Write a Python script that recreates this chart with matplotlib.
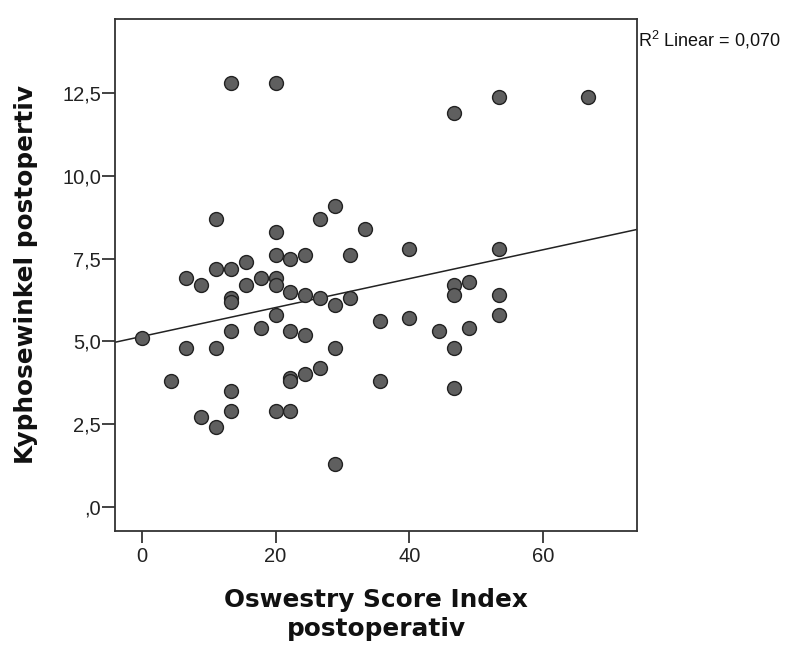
import numpy as np
import matplotlib
matplotlib.use("Agg")
import matplotlib.pyplot as plt
from matplotlib.ticker import FixedLocator, FuncFormatter

plt.rcParams['font.family'] = ['Liberation Sans', 'DejaVu Sans']
plt.rcParams['mathtext.fontset'] = 'custom'
plt.rcParams['mathtext.rm'] = 'Liberation Sans'

odi = [13.33, 20.0, 11.11, 20.0, 26.67, 28.89, 33.33, 11.11, 13.33, 15.56,
       20.0, 22.22, 24.44, 31.11, 46.67, 53.33, 66.67, 40.0, 53.33, 6.67,
       8.89, 15.56, 17.78, 20.0, 20.0, 22.22, 24.44, 26.67, 28.89, 31.11,
       13.33, 13.33, 20.0, 0.0, 13.33, 17.78, 22.22, 24.44, 35.56, 6.67,
       11.11, 28.89, 4.44, 22.22, 22.22, 24.44, 26.67, 35.56, 13.33, 8.89,
       11.11, 13.33, 20.0, 22.22, 28.89, 40.0, 44.44, 46.67, 48.89, 46.67,
       53.33, 53.33, 48.89, 46.67, 46.67]
kyphose = [12.8, 12.8, 8.7, 8.3, 8.7, 9.1, 8.4, 7.2, 7.2, 7.4,
           7.6, 7.5, 7.6, 7.6, 11.9, 12.4, 12.4, 7.8, 7.8, 6.9,
           6.7, 6.7, 6.9, 6.9, 6.7, 6.5, 6.4, 6.3, 6.1, 6.3,
           6.3, 6.2, 5.8, 5.1, 5.3, 5.4, 5.3, 5.2, 5.6, 4.8,
           4.8, 4.8, 3.8, 3.9, 3.8, 4.0, 4.2, 3.8, 3.5, 2.7,
           2.4, 2.9, 2.9, 2.9, 1.3, 5.7, 5.3, 6.7, 6.8, 6.4,
           6.4, 5.8, 5.4, 4.8, 3.6]
x_ticks = [0, 20, 40, 60]
y_ticks = [0, 2.5, 5.0, 7.5, 10.0, 12.5]
r2_label = "0,070"

x = np.array(odi)
y = np.array(kyphose)

fig = plt.figure(figsize=(8.09, 6.46), dpi=100)
ax = fig.add_axes([115/809, 1-531/646, (637-115)/809, (531-19)/646])

ax.scatter(x, y, s=100, facecolor='#5f5f5f', edgecolor='#222222', linewidth=1.0, zorder=3)

xlim = (-4.0, 74.0)
ax.set_xlim(*xlim)
ax.set_ylim(-0.74, 14.75)

slope, intercept = np.polyfit(x, y, 1)
xs = np.array(xlim)
ax.plot(xs, intercept + slope * xs, color='#222222', linewidth=1.1, zorder=2)

ax.xaxis.set_major_locator(FixedLocator(x_ticks))
ax.yaxis.set_major_locator(FixedLocator(y_ticks))
def yfmt(v, pos):
    s = f"{v:.1f}".replace('.', ',')
    if s.startswith('0,'):
        s = s[1:]
    return s
ax.yaxis.set_major_formatter(FuncFormatter(yfmt))
ax.xaxis.set_major_formatter(FuncFormatter(lambda v, p: f"{int(v)}"))

ax.tick_params(axis='both', direction='out', width=1.2, color='#222222',
               labelsize=14.5, labelcolor='#222222')
ax.tick_params(axis='y', length=9.5, pad=0.5)
ax.tick_params(axis='x', length=8.6, pad=3)
for sp in ax.spines.values():
    sp.set_color('#333333')
    sp.set_linewidth(1.3)

lab_font = dict(fontsize=17.8, fontweight='bold', family='DejaVu Sans', color='#111111')
ax.set_ylabel("Kyphosewinkel postopertiv", **lab_font)
ax.yaxis.set_label_coords(-0.148, 0.5)
ax.set_xlabel("Oswestry Score Index\npostoperativ", linespacing=1.25, **lab_font)
ax.xaxis.set_label_coords(0.5, -0.112)

ax.text(1.002, 0.96, r"R$^{\mathrm{2}}$ Linear = " + r2_label, transform=ax.transAxes,
        fontsize=13, ha='left', va='center', color='#111111')

fig.savefig("out.png", dpi=100)
